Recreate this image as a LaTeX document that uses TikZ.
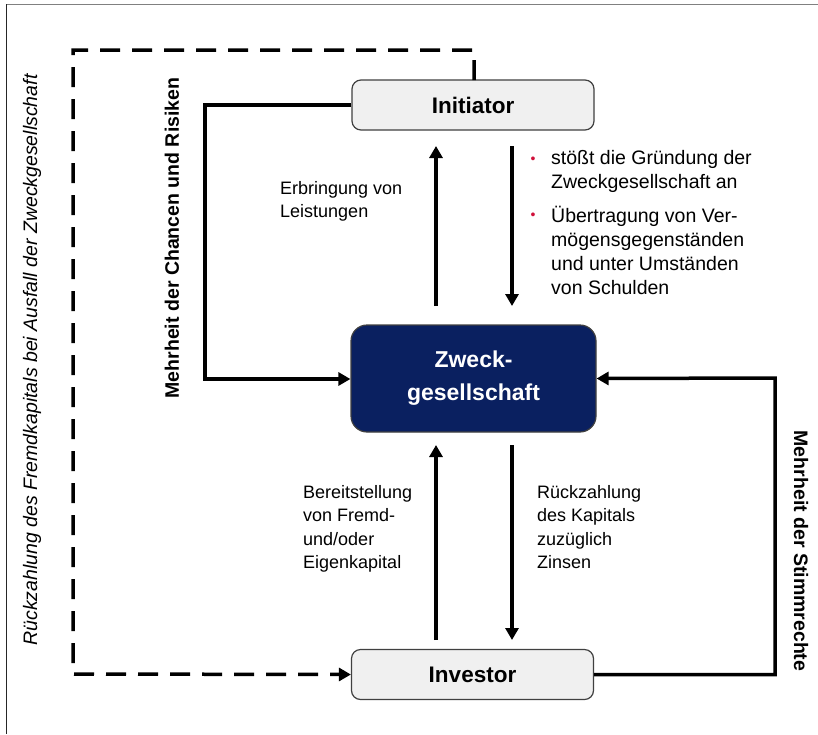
\documentclass[tikz,border=0pt]{standalone}
\usepackage{fontspec}
\setmainfont{Liberation Sans}
\usetikzlibrary{arrows.meta}
\definecolor{navy}{HTML}{0A2060}
\definecolor{boxgray}{HTML}{F0F0F0}
\definecolor{bordergray}{HTML}{404040}
\definecolor{bulletred}{HTML}{D0103A}
\begin{document}
\begin{tikzpicture}[x=1pt,y=-1pt,
  lightbox/.style={draw=bordergray,line width=1.2pt,fill=boxgray,rounded corners=9pt,
    minimum width=242pt,minimum height=50pt,font=\fontsize{22.5}{26}\selectfont\bfseries},
  darkbox/.style={draw=bordergray,line width=1.2pt,fill=navy,rounded corners=16pt,
    minimum width=245pt,minimum height=107pt,text=white,align=center,
    font=\fontsize{23}{33}\selectfont\bfseries},
  flow/.style={line width=3.5pt,-{Triangle[width=13pt,length=12pt]}},
  dashflow/.style={flow,dash pattern=on 20pt off 12pt},
  lbl/.style={font=\fontsize{18}{23.5}\selectfont,align=left,anchor=north west,inner sep=0pt},
  blbl/.style={font=\fontsize{19.5}{24}\selectfont,align=left,anchor=north west,inner sep=0pt},
  sidelbl/.style={font=\fontsize{19.5}{20}\selectfont\bfseries,inner sep=0pt},
]
\useasboundingbox (0,0) rectangle (818,734);
% frame
\draw[gray,line width=1.6pt] (6,4.5) -- (818,4.5);
\draw[black!85,line width=1.6pt] (6.5,4) -- (6.5,734);

\node[lightbox] (ini) at (473,105) {Initiator};
\node[darkbox] (zw) at (473.5,378.5) {Zweck-\\gesellschaft};
\node[lightbox] (inv) at (472.5,674.5) {Investor};

% vertical arrows
\coordinate (a1s) at (436,306); \coordinate (a1e) at (436,146);
\coordinate (a2s) at (512,146); \coordinate (a2e) at (512,306);
\coordinate (a3s) at (436,640); \coordinate (a3e) at (436,445);
\coordinate (a4s) at (512,445); \coordinate (a4e) at (512,640);
\draw[flow] (a1s) -- (a1e);
\draw[flow] (a2s) -- (a2e);
\draw[flow] (a3s) -- (a3e);
\draw[flow] (a4s) -- (a4e);

% side loops
\draw[flow] (ini.west) -| (205,379) -- (zw.west |- 0,379);
\draw[flow] (inv.east) -| (775,378) -- (zw.east);
\draw[dashflow] (474,80) -- (474,50) -| (73,674) -- (inv.west);

% labels
\node[lbl] (t1) at (280,181) {Erbringung von\\Leistungen};
\node[lbl] (t2) at (303,485) {Bereitstellung\\von Fremd-\\und/oder\\Eigenkapital};
\node[lbl] (t3) at (537,485) {Rückzahlung\\des Kapitals\\zuzüglich\\Zinsen};
\node[blbl] (b1) at (551,150) {stößt die Gründung der\\Zweckgesellschaft an};
\node[blbl] (b2) at (551,206) {Übertragung von Ver-\\mögensgegenständen\\und unter Umständen\\von Schulden};
\node[text=bulletred,font=\fontsize{14}{14}\selectfont] (d1) at (533,160) {•};
\node[text=bulletred,font=\fontsize{14}{14}\selectfont] (d2) at (533,216) {•};

\node[sidelbl,rotate=90] (s1) at (172,238) {Mehrheit der Chancen und Risiken};
\node[sidelbl,rotate=-90] (s2) at (801,551) {Mehrheit der Stimmrechte};
\node[font=\fontsize{19.5}{20}\selectfont\itshape,inner sep=0pt,rotate=90] (s3) at (32,360)
  {Rückzahlung des Fremdkapitals bei Ausfall der Zweckgesellschaft};
\end{tikzpicture}
\end{document}
